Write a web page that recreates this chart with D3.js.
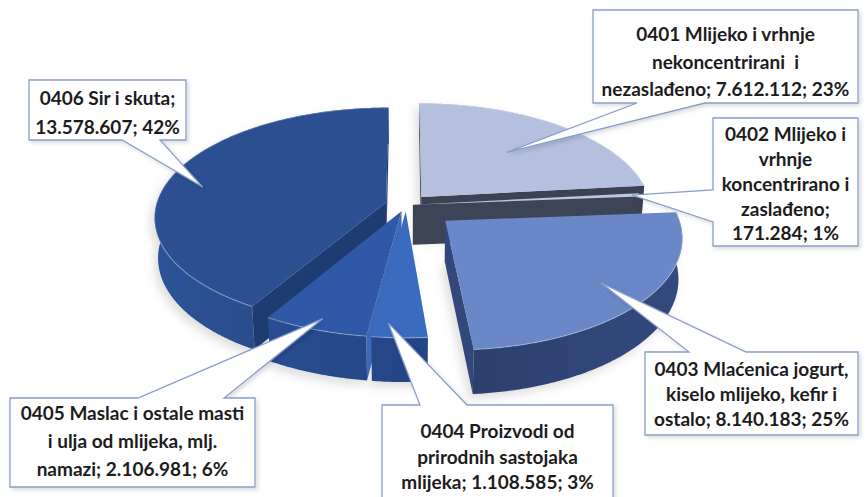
<!DOCTYPE html>
<html>
<head>
<meta charset="utf-8">
<script src="https://cdn.jsdelivr.net/npm/d3@7"></script>
<style>
  body { margin: 0; background: #fff; }
  svg { display: block; }
  .lbl { font-family: Lato, "Open Sans", sans-serif; font-weight: 700; font-size: 19px; fill: #1c1c1c; }
</style>
</head>
<body>
<div id="chart"></div>
<script>
// data
const codes = ['0401', '0402', '0403', '0404', '0405', '0406'];
const values = [7612112, 171284, 8140183, 1108585, 2106981, 13578607];
const labelLines = [
  ['0401 Mlijeko i vrhnje', 'nekoncentrirani  i', 'nezaslađeno; {v}'],
  ['0402 Mlijeko i', 'vrhnje', 'koncentrirano i', 'zaslađeno;', '{v}'],
  ['0403 Mlaćenica jogurt,', 'kiselo mlijeko, kefir i', 'ostalo; {v}'],
  ['0404 Proizvodi od', 'prirodnih sastojaka', 'mlijeka; {v}'],
  ['0405 Maslac i ostale masti', 'i ulja od mlijeka, mlj.', 'namazi; {v}'],
  ['0406 Sir i skuta;', '{v}']
];

// look of each slice
const sliceStyle = [
  { top: '#b4c0de', wall: '#8f9cbd', side: '#3b4254', explode: 0.10, tipR: 0.6, tipA: 0 },
  { top: '#b9c6e4', wall: '#3c4456', side: '#3c4456', explode: 0.03, tipR: 0.97, tipA: 0 },
  { top: '#6a88c8', wall: '#2d4170', side: '#33487a', explode: 0.22, tipR: 0.8, tipA: 0 },
  { top: '#3b6bbe', wall: '#26498d', side: '#26498d', explode: 0.06, tipR: 0.9, tipA: 0.05 },
  { top: '#2f59a6', wall: '#26498b', side: '#3c69b8', explode: 0.06, tipR: 0.92, tipA: 0 },
  { top: '#2b4f91', wall: '#284886', side: '#1f3c72', explode: 0.09, tipR: 0.83, tipA: -0.09 }
];

// callout boxes (same order as codes)
const callouts = [
  { x: 593, y: 10, w: 265, h: 93, side: 'bottom', b: [637, 705], ly: [33, 61, 88] },
  { x: 713, y: 118, w: 145, h: 128, side: 'left', b: [190, 222], ly: [133, 158, 183, 208, 232] },
  { x: 645, y: 352, w: 213, h: 83, side: 'top', b: [689, 746], ly: [368, 393, 418] },
  { x: 382, y: 405, w: 231, h: 100, side: 'top', b: [420, 467], ly: [430, 456, 481] },
  { x: 10, y: 398, w: 245, h: 89, side: 'top', b: [138, 224], ly: [412, 440, 468] },
  { x: 29, y: 80, w: 157, h: 60, side: 'bottom', b: [122, 160], ly: [97, 126] }
];

const W = 867, H = 497;
const total = d3.sum(values);
const fmt = d3.formatLocale({ decimal: ',', thousands: '.', grouping: [3], currency: ['', ''] }).format(',d');

const svg = d3.select('#chart').append('svg').attr('width', W).attr('height', H);
const defs = svg.append('defs');

// simple perspective camera looking down on the pie
const tilt = 28 * Math.PI / 180, camD = 6.75, focal = 1552, cx = 406, cy = 205, thick = 0.2;
const ct = Math.cos(tilt), st = Math.sin(tilt);
const cam = [0, -camD * ct, camD * st];

function project(x, y, z) {
  const vy = y + camD * ct, vz = z - camD * st;
  const dep = vy * ct - vz * st;
  const w = vy * st + vz * ct;
  return [cx + focal * x / dep, cy - focal * w / dep];
}

const pie = d3.pie().sort(null).value(d => d)(values);

const slices = pie.map((p, i) => {
  const mid = (p.startAngle + p.endAngle) / 2;
  const e = sliceStyle[i].explode;
  return { i, a0: p.startAngle, a1: p.endAngle, mid, ox: e * Math.sin(mid), oy: e * Math.cos(mid) };
});

const rim = (s, a, r, z) => project(s.ox + r * Math.sin(a), s.oy + r * Math.cos(a), z);
function arcPts(s, from, to, z) {
  const n = Math.max(2, Math.ceil(Math.abs(to - from) / 0.01));
  return d3.range(n + 1).map(k => rim(s, from + (to - from) * k / n, 1, z));
}
const line = d3.line();
const poly = pts => line(pts) + 'Z';

function faces(s, nx, ny) {
  // is a radial wall with this normal turned to the camera
  return nx * (cam[0] - s.ox) + ny * (cam[1] - s.oy) > 0;
}

// far slices first
const order = slices.slice().sort((a, b) =>
  (b.oy + 0.5 * Math.cos(b.mid)) - (a.oy + 0.5 * Math.cos(a.mid)));

// wall gradients
slices.forEach(s => {
  const c = d3.color(sliceStyle[s.i].wall);
  const g = defs.append('linearGradient').attr('id', 'wg' + s.i)
    .attr('gradientUnits', 'userSpaceOnUse').attr('x1', 150).attr('x2', 690).attr('y1', 0).attr('y2', 0);
  g.append('stop').attr('offset', 0).attr('stop-color', c.brighter(0.35));
  g.append('stop').attr('offset', 0.5).attr('stop-color', c.darker(0.15));
  g.append('stop').attr('offset', 1).attr('stop-color', c.brighter(0.35));
});

const blur = defs.append('filter').attr('id', 'pieShadow').attr('x', '-20%').attr('y', '-20%').attr('width', '140%').attr('height', '140%');
blur.append('feGaussianBlur').attr('stdDeviation', 5);

// faint shadow under the whole pie
const shadowG = svg.append('g').attr('filter', 'url(#pieShadow)').attr('opacity', 0.22)
  .attr('transform', 'translate(-4,5)');
slices.forEach(s => {
  shadowG.append('path')
    .attr('d', poly([project(s.ox, s.oy, -thick)].concat(arcPts(s, s.a0, s.a1, -thick))))
    .attr('fill', '#6b6b6b');
  shadowG.append('path')
    .attr('d', poly([project(s.ox, s.oy, 0)].concat(arcPts(s, s.a0, s.a1, 0))))
    .attr('fill', '#6b6b6b');
});

const pieG = svg.append('g');

order.forEach(s => {
  const st_ = sliceStyle[s.i];
  const g = pieG.append('g');
  const apexT = project(s.ox, s.oy, 0), apexB = project(s.ox, s.oy, -thick);

  // outer wall
  g.append('path')
    .attr('d', poly(arcPts(s, s.a0, s.a1, 0).concat(arcPts(s, s.a1, s.a0, -thick))))
    .attr('fill', `url(#wg${s.i})`);

  // radial walls
  if (faces(s, -Math.cos(s.a0), Math.sin(s.a0))) {
    g.append('path')
      .attr('d', poly([apexT, rim(s, s.a0, 1, 0), rim(s, s.a0, 1, -thick), apexB]))
      .attr('fill', st_.side);
  }
  if (faces(s, Math.cos(s.a1), -Math.sin(s.a1))) {
    g.append('path')
      .attr('d', poly([apexT, rim(s, s.a1, 1, 0), rim(s, s.a1, 1, -thick), apexB]))
      .attr('fill', st_.side);
  }

  // top face
  g.append('path')
    .attr('d', poly([apexT].concat(arcPts(s, s.a0, s.a1, 0))))
    .attr('fill', st_.top);

  // light bevel on the rim
  g.append('path')
    .attr('d', line(arcPts(s, s.a0, s.a1, 0)))
    .attr('fill', 'none')
    .attr('stroke', 'rgba(255,255,255,0.3)')
    .attr('stroke-width', 1.2);
});

// callouts
const shadow = defs.append('filter').attr('id', 'sh').attr('x', '-10%').attr('y', '-10%').attr('width', '130%').attr('height', '130%');
shadow.append('feDropShadow').attr('dx', 2).attr('dy', 2).attr('stdDeviation', 2)
  .attr('flood-color', '#000').attr('flood-opacity', 0.15);

function calloutPath(c, tip) {
  const x0 = c.x, y0 = c.y, x1 = c.x + c.w, y1 = c.y + c.h;
  const p = d3.path();
  if (c.side === 'top') {
    p.moveTo(x0, y0); p.lineTo(c.b[0], y0); p.lineTo(tip[0], tip[1]); p.lineTo(c.b[1], y0);
    p.lineTo(x1, y0); p.lineTo(x1, y1); p.lineTo(x0, y1);
  } else if (c.side === 'bottom') {
    p.moveTo(x0, y0); p.lineTo(x1, y0); p.lineTo(x1, y1); p.lineTo(c.b[1], y1);
    p.lineTo(tip[0], tip[1]); p.lineTo(c.b[0], y1); p.lineTo(x0, y1);
  } else {
    p.moveTo(x0, y0); p.lineTo(x1, y0); p.lineTo(x1, y1); p.lineTo(x0, y1);
    p.lineTo(x0, c.b[1]); p.lineTo(tip[0], tip[1]); p.lineTo(x0, c.b[0]);
  }
  p.closePath();
  return p.toString();
}

const labG = svg.append('g');
slices.forEach(s => {
  const c = callouts[s.i], stl = sliceStyle[s.i];
  const tip = rim(s, s.mid + stl.tipA, stl.tipR, 0);
  const g = labG.append('g');
  g.append('path').attr('d', calloutPath(c, tip))
    .attr('fill', '#fff').attr('stroke', '#8a9dcb').attr('stroke-width', 1.3)
    .attr('filter', 'url(#sh)');
  const vtxt = fmt(values[s.i]) + '; ' + Math.round(values[s.i] / total * 100) + '%';
  g.selectAll('text').data(labelLines[s.i]).enter().append('text')
    .attr('class', 'lbl')
    .attr('x', c.x + c.w / 2)
    .attr('y', (d, k) => c.ly[k])
    .attr('text-anchor', 'middle')
    .attr('dominant-baseline', 'central')
    .style('white-space', 'pre')
    .text(d => d.replace('{v}', vtxt));
});
</script>
</body>
</html>
